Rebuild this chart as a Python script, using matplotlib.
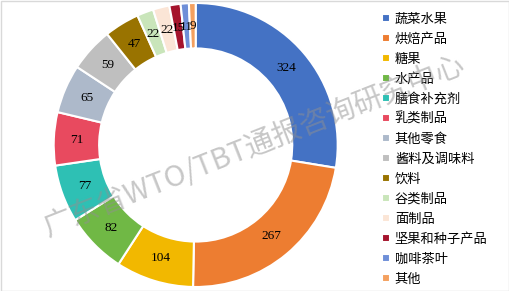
import matplotlib
matplotlib.use('Agg')
import matplotlib.pyplot as plt
from matplotlib.patches import Rectangle
import numpy as np

plt.rcParams['font.family'] = ['Noto Sans CJK SC', 'DejaVu Sans']

categories = ['蔬菜水果', '烘焙产品', '糖果', '水产品', '膳食补充剂', '乳类制品', '其他零食',
              '酱料及调味料', '饮料', '谷类制品', '面制品', '坚果和种子产品', '咖啡茶叶', '其他']
values = [324, 267, 104, 82, 77, 71, 65, 59, 47, 22, 22, 15, 11, 9]
colors = ['#4472C4', '#ED7D31', '#F2B800', '#70B845', '#2EC0B4', '#E84A5F', '#ADB9CA',
          '#BFBFBF', '#997300', '#C9E5BA', '#FBE5D6', '#A5142D', '#6E8FD8', '#F4A05F']

fig = plt.figure(figsize=(5.09, 2.91), dpi=100)
ax = fig.add_axes([(195.7 - 142) / 509, (291 - 145 - 142) / 291, 284 / 509, 284 / 291])

wedges, _ = ax.pie(values, colors=colors, startangle=90, counterclock=False,
                   radius=1.0, wedgeprops=dict(width=0.32, edgecolor='white', linewidth=1.5))

# value labels in the middle of the ring
for w, v in zip(wedges, values):
    ang = np.deg2rad((w.theta1 + w.theta2) / 2)
    r = 0.835
    ax.text(r * np.cos(ang), r * np.sin(ang), str(v), ha='center', va='center',
            fontsize=9.5, family='Liberation Serif', color='black')
ax.set_xlim(-1, 1)
ax.set_ylim(-1, 1)
ax.set_aspect('equal')

# legend
leg = fig.legend(wedges, categories, loc='upper left', bbox_to_anchor=(375 / 509, 1 - 6 / 291),
                 frameon=False, fontsize=9.5, handlelength=0.6, handleheight=0.6,
                 handletextpad=0.4, labelspacing=0.53, borderpad=0)

# watermark
fig.text(255 / 509, 1 - 146 / 291, '广东省WTO/TBT通报咨询研究中心', fontsize=21, color='#909090',
         alpha=0.5, rotation=21.5, ha='center', va='center', zorder=10,
         family=['Noto Sans CJK SC', 'DejaVu Sans'])

fig.patches.append(Rectangle((0.5 / 509, 0.5 / 291), 1 - 1 / 509, 1 - 1 / 291,
                             transform=fig.transFigure, fill=False, edgecolor='#d9d9d9', linewidth=1))

fig.savefig('out.png', dpi=100)
